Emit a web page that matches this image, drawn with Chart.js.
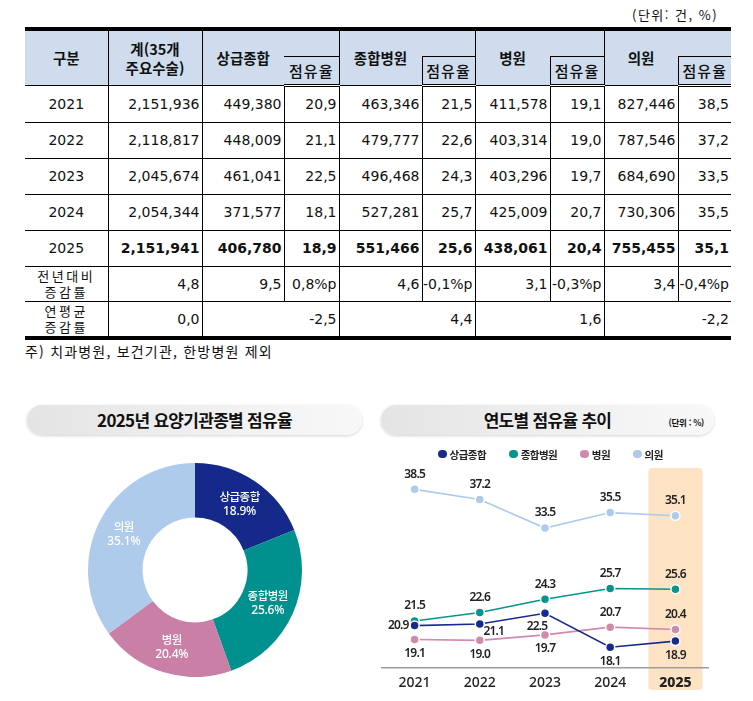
<!DOCTYPE html>
<html lang="ko">
<head>
<meta charset="utf-8">
<script src="https://cdn.jsdelivr.net/npm/chart.js@4.4.1/dist/chart.umd.min.js"></script>
<style>
  body { margin: 0; background: #fff; width: 753px; height: 701px; position: relative; overflow: hidden;
         font-family: "DejaVu Sans", "Noto Sans CJK KR", sans-serif; color: #111; }
  .unit { position: absolute; left: 632px; top: 5px; font-size: 13px; letter-spacing: 1.5px;
          font-family: "Noto Sans CJK KR", sans-serif; }
  #tbl { position: absolute; left: 25px; top: 27px; width: 706px; border-collapse: collapse; table-layout: fixed;
         border-top: 4px solid #000; border-bottom: 4px solid #000; }
  #tbl th, #tbl td { border: 1px solid #000; padding: 0; overflow: hidden; white-space: nowrap; }
  #tbl tr > :first-child { border-left: none; }
  #tbl tr > :last-child { border-right: none; }
  #tbl th { background: #cedced; font-family: "Noto Sans CJK KR", sans-serif; font-weight: 700;
            font-size: 14.5px; line-height: 19px; }
  #tbl thead tr.h1 { height: 27px; }
  #tbl thead tr.h2 { height: 29px; }
  #tbl thead tr.h2 th { border-bottom: 3px double #000; font-weight: 500; font-size: 15px; letter-spacing: 1px; }
  #tbl th.nr { border-right: none; }
  #tbl th.nl { border-left: none; border-bottom: 1px solid #000; }
  #tbl td { font-size: 14px; text-align: right; padding-right: 2px; height: 35px; }
  #tbl td.yr { text-align: center; padding-right: 0; }
  #tbl td.lbl { text-align: center; padding-right: 0; font-family: "Noto Sans CJK KR", sans-serif;
                font-size: 13px; line-height: 16px; letter-spacing: 2.5px; }
  #tbl tr.low td { height: 34px; }
  #tbl tr.bold td { font-weight: bold; }
  #tbl tr.bold td.yr { font-weight: normal; }
  .note { position: absolute; left: 25px; top: 341px; font-size: 14px; letter-spacing: 1.2px;
          font-family: "Noto Sans CJK KR", sans-serif; }
  .pill { position: absolute; height: 30px; border-radius: 15px;
          background: linear-gradient(to right, #e4e4e4, #f1f1f1 60%, #f8f8f8);
          box-shadow: 0 1px 3px rgba(0,0,0,0.18);
          font-family: "Noto Sans CJK KR", sans-serif; font-weight: 700; font-size: 17px;
          line-height: 30px; text-align: center; color: #111; letter-spacing: -0.7px; }
  .pill .u { position: absolute; right: 10px; top: 2px; font-size: 8.5px; letter-spacing: -0.3px; }
  #legend { position: absolute; left: 438px; top: 447px; height: 14px; display: flex; align-items: center;
            font-family: "Noto Sans CJK KR", sans-serif; font-size: 10.5px; font-weight: 700; color: #222;
            letter-spacing: -0.5px; }
  #legend .item { display: flex; align-items: center; margin-right: 23px; }
  #legend .dot { width: 8.5px; height: 8.5px; border-radius: 50%; margin-right: 3px; }
  canvas { position: absolute; }
</style>
</head>
<body>
<div class="unit">(단위: 건, %)</div>
<table id="tbl"></table>
<div class="note">주) 치과병원, 보건기관, 한방병원 제외</div>

<div class="pill" style="left:27px; top:405px; width:335px;">2025년 요양기관종별 점유율</div>
<div class="pill" style="left:381px; top:405px; width:333px;">연도별 점유율 추이<span class="u">(단위 : %)</span></div>

<canvas id="pieChart" width="214" height="214" style="left:88px; top:463px;"></canvas>
<canvas id="lineChart" width="340" height="262" style="left:376px; top:439px;"></canvas>
<div id="legend"></div>

<script>
var years = ['2021', '2022', '2023', '2024', '2025'];
var categories = ['상급종합', '종합병원', '병원', '의원'];

var totalCases = [2151936, 2118817, 2045674, 2054344, 2151941];
var tertiaryCases = [449380, 448009, 461041, 371577, 406780];
var generalCases = [463346, 479777, 496468, 527281, 551466];
var hospitalCases = [411578, 403314, 403296, 425009, 438061];
var clinicCases = [827446, 787546, 684690, 730306, 755455];

var tertiaryShare = [20.9, 21.1, 22.5, 18.1, 18.9];
var generalShare = [21.5, 22.6, 24.3, 25.7, 25.6];
var hospitalShare = [19.1, 19.0, 19.7, 20.7, 20.4];
var clinicShare = [38.5, 37.2, 33.5, 35.5, 35.1];

var yoyRates = ['4.8', '9.5', '0.8%p', '4.6', '-0.1%p', '3.1', '-0.3%p', '3.4', '-0.4%p'];
var avgRates = ['0.0', '-2.5', '4.4', '1.6', '-2.2'];

var share2025 = [18.9, 25.6, 20.4, 35.1];

var colors = ['#15298a', '#00918f', '#c97fa6', '#aecbeb'];
var lineColors = ['#1a2a8c', '#06948f', '#d08aac', '#aecbeb'];

function fmt(n) { return n.toLocaleString('en-US'); }
function fmt1(n) { return n.toFixed(1).replace('.', ','); }

// ---- table ----
(function buildTable() {
    var tbl = document.getElementById('tbl');
    var widths = [83, 94, 82, 55, 83, 53, 75, 54, 74, 53];
    var html = '<colgroup>';
    widths.forEach(function (w) { html += '<col style="width:' + w + 'px">'; });
    html += '</colgroup><thead><tr class="h1"><th rowspan="2">구분</th><th rowspan="2">계(35개<br>주요수술)</th>';
    categories.forEach(function (c) {
        html += '<th rowspan="2" class="nr">' + c + '</th><th class="nl"></th>';
    });
    html += '</tr><tr class="h2">';
    categories.forEach(function () { html += '<th>점유율</th>'; });
    html += '</tr></thead><tbody>';

    var cases = [tertiaryCases, generalCases, hospitalCases, clinicCases];
    var shares = [tertiaryShare, generalShare, hospitalShare, clinicShare];
    years.forEach(function (y, i) {
        html += '<tr' + (i === years.length - 1 ? ' class="bold"' : '') + '><td class="yr">' + y + '</td><td>' + fmt(totalCases[i]) + '</td>';
        for (var k = 0; k < 4; k++) {
            html += '<td>' + fmt(cases[k][i]) + '</td><td>' + fmt1(shares[k][i]) + '</td>';
        }
        html += '</tr>';
    });

    html += '<tr class="low"><td class="lbl">전년대비<br>증감률</td>';
    yoyRates.forEach(function (v) { html += '<td>' + v.replace('.', ',') + '</td>'; });
    html += '</tr><tr class="low"><td class="lbl">연평균<br>증감률</td><td>' + avgRates[0].replace('.', ',') + '</td>';
    for (var k = 1; k < avgRates.length; k++) {
        html += '<td colspan="2">' + avgRates[k].replace('.', ',') + '</td>';
    }
    html += '</tr></tbody>';
    tbl.innerHTML = html;
})();

// ---- doughnut ----
var sliceLabels = {
    id: 'sliceLabels',
    afterDatasetsDraw: function (chart) {
        var ctx = chart.ctx;
        var meta = chart.getDatasetMeta(0);
        ctx.save();
        ctx.fillStyle = '#fff';
        ctx.textAlign = 'center';
        ctx.textBaseline = 'middle';
        meta.data.forEach(function (arc, i) {
            var p = arc.tooltipPosition();
            ctx.font = '500 11.5px "Noto Sans CJK KR", sans-serif';
            ctx.letterSpacing = '-0.5px';
            ctx.fillText(chart.data.labels[i], p.x, p.y - 7);
            ctx.font = '500 12px "Noto Sans", sans-serif';
            ctx.letterSpacing = '-0.2px';
            ctx.fillText(chart.data.datasets[0].data[i].toFixed(1) + '%', p.x, p.y + 8);
        });
        ctx.restore();
    }
};

new Chart(document.getElementById('pieChart').getContext('2d'), {
    type: 'doughnut',
    data: {
        labels: categories,
        datasets: [{ data: share2025, backgroundColor: colors, borderWidth: 0 }]
    },
    options: {
        responsive: false,
        animation: false,
        cutout: '49%',
        plugins: { legend: { display: false }, tooltip: { enabled: false } }
    },
    plugins: [sliceLabels]
});

// ---- line chart ----
// where each value label sits relative to its point
var labelPos = [
    ['left', 'belowRight', 'belowLeft', 'below', 'below'],
    ['above', 'above', 'above', 'above', 'above'],
    ['below', 'below', 'below', 'above', 'above'],
    ['above', 'above', 'above', 'above', 'above']
];

var highlight = {
    id: 'highlight',
    beforeDraw: function (chart) {
        var ctx = chart.ctx;
        var x = chart.scales.x.getPixelForValue(years.length - 1);
        var top = chart.chartArea.top - 2;
        var bottom = chart.height - 11;
        ctx.save();
        ctx.fillStyle = '#fde3c4';
        ctx.beginPath();
        ctx.roundRect(x - 27, top, 54, bottom - top, 4);
        ctx.fill();
        ctx.restore();
    }
};

var valueLabels = {
    id: 'valueLabels',
    afterDatasetsDraw: function (chart) {
        var ctx = chart.ctx;
        ctx.save();
        ctx.fillStyle = '#222';
        ctx.font = '600 12px "Noto Sans", sans-serif';
        ctx.letterSpacing = '-0.8px';
        chart.data.datasets.forEach(function (ds, d) {
            chart.getDatasetMeta(d).data.forEach(function (pt, i) {
                var txt = ds.data[i].toFixed(1);
                var pos = labelPos[d][i];
                var x = pt.x, y = pt.y;
                ctx.textAlign = 'center';
                ctx.textBaseline = 'middle';
                if (pos === 'above') { y -= 15; }
                else if (pos === 'below') { y += 14; }
                else if (pos === 'left') { ctx.textAlign = 'right'; x -= 6; }
                else if (pos === 'belowRight') { x += 14; y += 8; }
                else if (pos === 'belowLeft') { x -= 8; y += 13; }
                ctx.fillText(txt, x, y);
            });
        });
        ctx.restore();
    }
};

function series(label, data, color) {
    return {
        label: label, data: data,
        borderColor: color, backgroundColor: color,
        borderWidth: 1.6,
        pointRadius: 4.5, pointBorderWidth: 1.5, pointBorderColor: '#fff',
        pointBackgroundColor: color, tension: 0
    };
}

var lineChart = new Chart(document.getElementById('lineChart').getContext('2d'), {
    type: 'line',
    data: {
        labels: years,
        datasets: [
            series(categories[0], tertiaryShare, lineColors[0]),
            series(categories[1], generalShare, lineColors[1]),
            series(categories[2], hospitalShare, lineColors[2]),
            series(categories[3], clinicShare, lineColors[3])
        ]
    },
    options: {
        responsive: false,
        animation: false,
        layout: { padding: { left: 6, right: 8, bottom: 4, top: 31 } },
        plugins: {
            tooltip: { enabled: false },
            legend: { display: false }
        },
        scales: {
            x: {
                offset: true,
                grid: { display: false, drawTicks: false },
                border: { display: true, color: '#9c9c9c', width: 1.5 },
                ticks: {
                    padding: 6, color: '#222',
                    font: function (c) {
                        return { size: 14, family: '"Noto Sans", sans-serif', weight: c.index === years.length - 1 ? 800 : 500 };
                    }
                }
            },
            y: { display: false, min: 15.4, max: 41 }
        }
    },
    plugins: [highlight, valueLabels]
});

// legend built from the chart's datasets
var legendDiv = document.getElementById('legend');
lineChart.data.datasets.forEach(function (ds) {
    var item = document.createElement('div');
    item.className = 'item';
    item.innerHTML = '<span class="dot" style="background:' + ds.borderColor + '"></span>' + ds.label;
    legendDiv.appendChild(item);
});
</script>
</body>
</html>
